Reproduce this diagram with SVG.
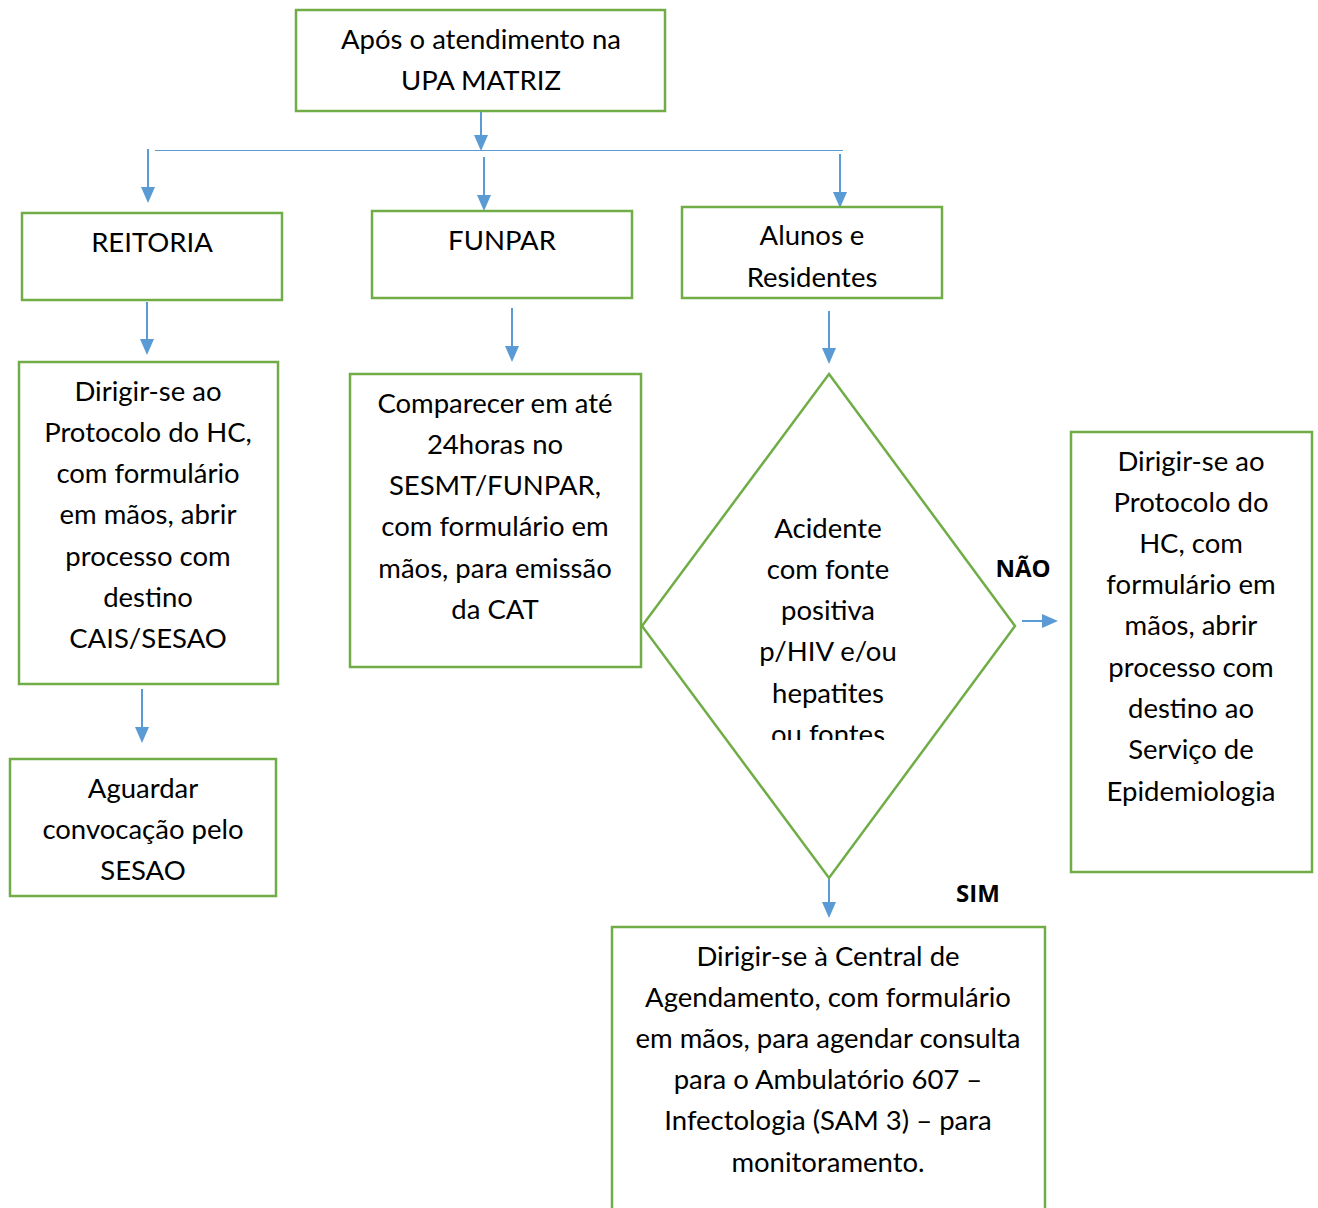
<svg xmlns="http://www.w3.org/2000/svg" width="1318" height="1208" viewBox="0 0 1318 1208">
<style>
.box{fill:#fff;stroke:#70AD47;stroke-width:2.5}
.t{font-family:Lato,"Open Sans","Liberation Sans",sans-serif;font-size:27.5px;fill:#000;text-anchor:middle}
.b{font-family:"Open Sans","Liberation Sans",sans-serif;font-size:24px;font-weight:bold;fill:#000;text-anchor:middle}
.c{stroke:#5B9BD5;stroke-width:2;fill:none}
.h{fill:#5B9BD5}
</style>
<defs>
<path id="hd" d="M-7,-16 L7,-16 L0,0 z"/>
<clipPath id="dclip"><rect x="640" y="370" width="380" height="370"/></clipPath>
</defs>
<rect width="1318" height="1208" fill="#fff"/>
<g id="connectors">
<line class="c" x1="481" y1="111" x2="481" y2="136"/>
<use href="#hd" class="h" x="481" y="151"/>
<line x1="155" y1="150.5" x2="843" y2="150.5" stroke="#5B9BD5" stroke-width="1.2"/>
<line class="c" x1="148" y1="149" x2="148" y2="188"/>
<use href="#hd" class="h" x="148" y="203"/>
<line class="c" x1="484" y1="157" x2="484" y2="196"/>
<use href="#hd" class="h" x="484" y="211"/>
<line class="c" x1="840" y1="154" x2="840" y2="193"/>
<use href="#hd" class="h" x="840" y="208"/>
<line class="c" x1="147" y1="302" x2="147" y2="340"/>
<use href="#hd" class="h" x="147" y="355"/>
<line class="c" x1="142" y1="689" x2="142" y2="728"/>
<use href="#hd" class="h" x="142" y="743"/>
<line class="c" x1="512" y1="308" x2="512" y2="347"/>
<use href="#hd" class="h" x="512" y="362"/>
<line class="c" x1="829" y1="311" x2="829" y2="349"/>
<use href="#hd" class="h" x="829" y="364"/>
<line class="c" x1="1022" y1="621" x2="1043" y2="621"/>
<use href="#hd" class="h" transform="translate(1058,621) rotate(-90)"/>
<line class="c" x1="829" y1="866" x2="829" y2="903"/>
<use href="#hd" class="h" x="829" y="918"/>
</g>
<g id="n-upa">
<rect class="box" x="296" y="10" width="369" height="101"/>
<text class="t" x="481" y="49">Após o atendimento na</text>
<text class="t" x="481" y="90">UPA MATRIZ</text>
</g>
<g id="n-reitoria">
<rect class="box" x="22" y="213" width="260" height="87"/>
<text class="t" x="152" y="252">REITORIA</text>
</g>
<g id="n-funpar">
<rect class="box" x="372" y="211" width="260" height="87"/>
<text class="t" x="502" y="250">FUNPAR</text>
</g>
<g id="n-alunos">
<rect class="box" x="682" y="207" width="260" height="91"/>
<text class="t" x="812" y="245">Alunos e</text>
<text class="t" x="812" y="287">Residentes</text>
</g>
<g id="n-dirigir-hc">
<rect class="box" x="19" y="362" width="259" height="322"/>
<text class="t" x="148" y="401">Dirigir-se ao</text>
<text class="t" x="148" y="442">Protocolo do HC,</text>
<text class="t" x="148" y="483">com formulário</text>
<text class="t" x="148" y="524">em mãos, abrir</text>
<text class="t" x="148" y="566">processo com</text>
<text class="t" x="148" y="607">destino</text>
<text class="t" x="148" y="648">CAIS/SESAO</text>
</g>
<g id="n-aguardar">
<rect class="box" x="10" y="759" width="266" height="137"/>
<text class="t" x="143" y="798">Aguardar</text>
<text class="t" x="143" y="839">convocação pelo</text>
<text class="t" x="143" y="880">SESAO</text>
</g>
<g id="n-comparecer">
<rect class="box" x="350" y="374" width="291" height="293"/>
<text class="t" x="495" y="413">Comparecer em até</text>
<text class="t" x="495" y="454">24horas no</text>
<text class="t" x="495" y="495">SESMT/FUNPAR,</text>
<text class="t" x="495" y="536">com formulário em</text>
<text class="t" x="495" y="578">mãos, para emissão</text>
<text class="t" x="495" y="619">da CAT</text>
</g>
<g id="n-decisao">
<polygon class="box" points="829,374 1015,626 829,878 642,626"/>
<g clip-path="url(#dclip)">
<text class="t" x="828" y="538">Acidente</text>
<text class="t" x="828" y="579">com fonte</text>
<text class="t" x="828" y="620">positiva</text>
<text class="t" x="828" y="661">p/HIV e/ou</text>
<text class="t" x="828" y="703">hepatites</text>
<text class="t" x="828" y="744">ou fontes</text>
</g>
</g>
<g id="n-epidemiologia">
<rect class="box" x="1071" y="432" width="241" height="440"/>
<text class="t" x="1191" y="471">Dirigir-se ao</text>
<text class="t" x="1191" y="512">Protocolo do</text>
<text class="t" x="1191" y="553">HC, com</text>
<text class="t" x="1191" y="594">formulário em</text>
<text class="t" x="1191" y="635">mãos, abrir</text>
<text class="t" x="1191" y="677">processo com</text>
<text class="t" x="1191" y="718">destino ao</text>
<text class="t" x="1191" y="759">Serviço de</text>
<text class="t" x="1191" y="801">Epidemiologia</text>
</g>
<g id="n-central">
<rect class="box" x="612" y="927" width="433" height="300"/>
<text class="t" x="828" y="966">Dirigir-se à Central de</text>
<text class="t" x="828" y="1007">Agendamento, com formulário</text>
<text class="t" x="828" y="1048">em mãos, para agendar consulta</text>
<text class="t" x="828" y="1089">para o Ambulatório 607 –</text>
<text class="t" x="828" y="1130">Infectologia (SAM 3) – para</text>
<text class="t" x="828" y="1172">monitoramento.</text>
</g>
<g id="labels">
<text class="b" x="1023" y="577">NÃO</text>
<text class="b" x="978" y="902">SIM</text>
</g>
</svg>
